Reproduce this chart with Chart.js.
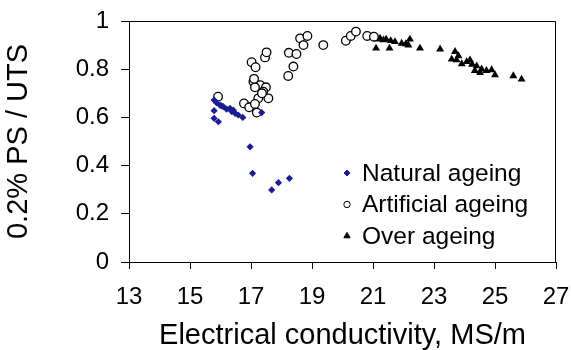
<!DOCTYPE html>
<html>
<head>
<meta charset="utf-8">
<script src="https://cdn.jsdelivr.net/npm/chart.js@4.4.1/dist/chart.umd.min.js"></script>
<style>
  html, body { margin: 0; padding: 0; background: #fff; }
  #wrap { width: 571px; height: 350px; }
</style>
</head>
<body>
<div id="wrap"><canvas id="myChart" width="571" height="350"></canvas></div>
<script>
// conductivity (MS/m) and 0.2% PS / UTS ratio
let naturalX = [15.79, 15.87, 15.98, 16.09, 16.20, 16.31, 16.37, 16.48, 16.58, 16.73, 15.79, 15.79, 15.93, 17.35, 16.97, 17.05, 17.68, 17.90, 18.26, 16.03, 16.42]
let naturalY = [0.672, 0.661, 0.651, 0.645, 0.634, 0.638, 0.624, 0.617, 0.610, 0.600, 0.628, 0.596, 0.582, 0.620, 0.478, 0.368, 0.299, 0.329, 0.347, 0.648, 0.630]

let artificialX = [15.92, 16.77, 16.94, 17.19, 17.08, 17.02, 17.15, 17.46, 17.51, 17.30, 17.13, 17.49, 17.40, 17.24, 17.57, 17.13, 18.24, 18.49, 18.39, 18.22, 18.61, 18.85, 18.72, 19.37, 20.11, 20.27, 20.44, 20.81, 21.03, 17.10, 17.36]
let artificialY = [0.686, 0.658, 0.642, 0.620, 0.748, 0.829, 0.808, 0.849, 0.870, 0.734, 0.725, 0.725, 0.707, 0.679, 0.679, 0.656, 0.868, 0.863, 0.811, 0.772, 0.928, 0.938, 0.900, 0.900, 0.918, 0.938, 0.956, 0.938, 0.935, 0.760, 0.700]

let overX = [20.96, 21.12, 21.10, 21.23, 21.34, 21.43, 21.54, 21.58, 21.72, 21.94, 22.08, 22.21, 22.16, 22.54, 23.20, 23.69, 23.58, 23.74, 23.91, 24.18, 24.07, 24.40, 24.34, 24.56, 24.72, 24.89, 25.00, 25.60, 25.87, 24.51, 23.80, 24.25]
let overY = [0.932, 0.924, 0.887, 0.928, 0.921, 0.924, 0.887, 0.918, 0.914, 0.907, 0.905, 0.924, 0.900, 0.887, 0.883, 0.873, 0.841, 0.838, 0.822, 0.838, 0.831, 0.813, 0.794, 0.800, 0.794, 0.797, 0.776, 0.772, 0.758, 0.785, 0.855, 0.820]

let seriesNames = ['Natural ageing', 'Artificial ageing', 'Over ageing']
let xTicks = [13, 15, 17, 19, 21, 23, 25, 27]
let yTicks = [0, 0.2, 0.4, 0.6, 0.8, 1]

function toPoints(xs, ys) {
  return xs.map(function (x, i) { return { x: x, y: ys[i] } })
}

let ctx = document.getElementById('myChart')
let font = 'Liberation Sans, Arial, sans-serif'

// frame + legend inside the plot
let framePlugin = {
  id: 'frame',
  afterDraw: function (chart) {
    let a = chart.chartArea
    let c = chart.ctx
    c.save()
    c.strokeStyle = '#000'
    c.lineWidth = 1
    c.beginPath()
    c.moveTo(a.left, a.top + 0.5)
    c.lineTo(a.right - 0.5, a.top + 0.5)
    c.lineTo(a.right - 0.5, a.bottom)
    c.stroke()

    c.font = '24.5px ' + font
    c.textBaseline = 'middle'
    chart.data.datasets.forEach(function (ds, i) {
      let y = 173 + i * 31.5
      c.fillStyle = ds.backgroundColor
      c.strokeStyle = ds.borderColor
      c.lineWidth = 1
      Chart.helpers.drawPoint(c, {
        pointStyle: ds.pointStyle, radius: ds.legendRadius, borderWidth: 1
      }, 347, y)
      c.fillStyle = '#000'
      c.fillText(ds.label, 362, y + 1)
    })
    c.restore()
  }
}

new Chart(ctx, {
  type: 'scatter',
  data: {
    datasets: [{
      label: seriesNames[0],
      data: toPoints(naturalX, naturalY),
      pointStyle: 'rectRot',
      pointRadius: 3.6,
      legendRadius: 3,
      backgroundColor: '#1c1c96',
      borderColor: '#1c1c96',
      borderWidth: 0
    }, {
      label: seriesNames[1],
      data: toPoints(artificialX, artificialY),
      pointStyle: 'circle',
      pointRadius: 4.3,
      legendRadius: 3.2,
      backgroundColor: '#fff',
      borderColor: '#000',
      borderWidth: 1.3
    }, {
      label: seriesNames[2],
      data: toPoints(overX, overY),
      pointStyle: 'triangle',
      pointRadius: 4.6,
      legendRadius: 3.6,
      backgroundColor: '#000',
      borderColor: '#000',
      borderWidth: 0
    }]
  },
  options: {
    responsive: false,
    animation: false,
    events: [],
    layout: { padding: { left: 0, right: 15, top: 21, bottom: 0 } },
    plugins: {
      legend: { display: false },
      tooltip: { enabled: false }
    },
    scales: {
      x: {
        type: 'linear',
        min: 13,
        max: 27,
        afterBuildTicks: function (axis) {
          axis.ticks = xTicks.map(function (v) { return { value: v } })
        },
        afterFit: function (axis) {
          axis.height = 88
          axis.paddingLeft = 0
          axis.paddingRight = 0
        },
        grid: { display: true, drawOnChartArea: false, drawTicks: true, tickLength: 7, color: '#000' },
        border: { display: true, color: '#000', width: 1 },
        ticks: { color: '#000', font: { family: font, size: 24 }, padding: 14, maxRotation: 0 },
        title: {
          display: true,
          text: 'Electrical conductivity, MS/m',
          color: '#000',
          font: { family: font, size: 29 },
          padding: { top: 0, bottom: -3 }
        }
      },
      y: {
        type: 'linear',
        min: 0,
        max: 1,
        afterBuildTicks: function (axis) {
          axis.ticks = yTicks.map(function (v) { return { value: v } })
        },
        afterFit: function (axis) {
          axis.width = 129
          axis.paddingTop = 0
          axis.paddingBottom = 0
        },
        grid: { display: true, drawOnChartArea: false, drawTicks: true, tickLength: 8, color: '#000' },
        border: { display: true, color: '#000', width: 1 },
        ticks: {
          color: '#000',
          font: { family: font, size: 24 },
          padding: 12,
          callback: function (v) { return String(v) }
        },
        title: {
          display: true,
          text: '0.2% PS / UTS',
          color: '#000',
          font: { family: font, size: 29 },
          padding: { top: 2, bottom: 0 }
        }
      }
    }
  },
  plugins: [framePlugin]
})
</script>
</body>
</html>
